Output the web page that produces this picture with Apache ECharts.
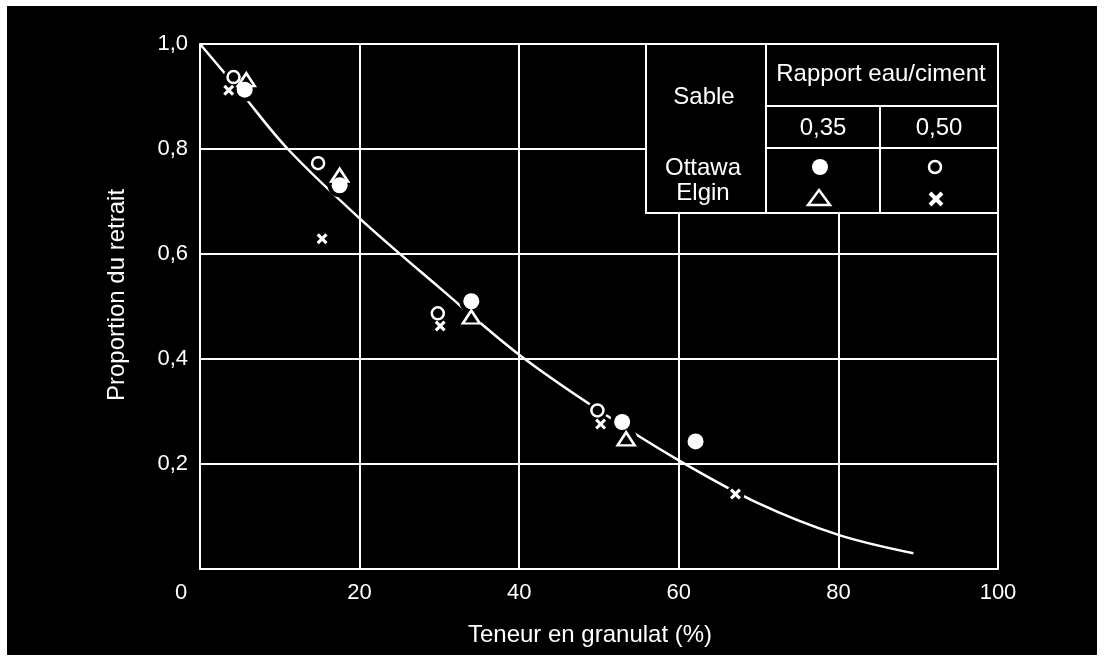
<!DOCTYPE html>
<html><head><meta charset="utf-8">
<script src="https://cdn.jsdelivr.net/npm/echarts@6/dist/echarts.min.js"></script>
<style>
html,body{margin:0;padding:0;background:#fff;width:1104px;height:660px;overflow:hidden}
#chart{position:absolute;left:7px;top:6px;width:1090px;height:649px;background:#000}
</style></head><body><div id="chart"></div>
<script>
// ---- data ----
const xTitle = 'Teneur en granulat (%)';
const yTitle = 'Proportion du retrait';
const xTickValues = [0, 20, 40, 60, 80, 100];
const yTickLabels = ['0', '0,2', '0,4', '0,6', '0,8', '1,0'];

// fitted curve
const curveX = [0, 5, 11, 20, 30, 40, 50, 60, 70, 80, 89.4];
const curveY = [1.0, 0.91, 0.80, 0.668, 0.536, 0.408, 0.302, 0.207, 0.125, 0.065, 0.03];

// Ottawa sand, w/c 0.35 (filled circle)
const ottawa035X = [5.6, 17.5, 34.0, 52.9, 62.1];
const ottawa035Y = [0.913, 0.731, 0.510, 0.280, 0.243];
// Ottawa sand, w/c 0.50 (open circle)
const ottawa050X = [4.2, 14.8, 29.8, 49.8];
const ottawa050Y = [0.937, 0.773, 0.487, 0.302];
// Elgin sand, w/c 0.35 (triangle)
const elgin035X = [5.8, 17.5, 34.0, 53.4];
const elgin035Y = [0.932, 0.750, 0.480, 0.248];
// Elgin sand, w/c 0.50 (cross)
const elgin050X = [3.6, 15.3, 30.1, 50.2, 67.1];
const elgin050Y = [0.912, 0.629, 0.463, 0.276, 0.143];

// legend table texts
const tableHeadSand = 'Sable';
const tableHeadRatio = 'Rapport eau/ciment';
const ratioLabels = ['0,35', '0,50'];
const sandLabels = ['Ottawa', 'Elgin'];

// ---- build ----
const zip = (xs, ys) => xs.map((x, i) => [x, ys[i]]);
const FONT = 'Liberation Sans';
const WHITE = '#fff';
const crossPath = 'path://M0,2 L2,0 L5,3 L8,0 L10,2 L7,5 L10,8 L8,10 L5,7 L2,10 L0,8 L3,5 Z';

const chart = echarts.init(document.getElementById('chart'), null, {renderer: 'canvas'});

function halo(xs, ys, size) {
  return {
    type: 'scatter', data: zip(xs, ys), symbol: 'circle', symbolSize: size,
    itemStyle: {color: '#000', opacity: 1}, z: 3, silent: true
  };
}

const tx = (text, x, y, size) => ({
  type: 'text', x: x, y: y, z: 100,
  style: {text: text, fill: WHITE, fontSize: size || 24, fontFamily: FONT, textAlign: 'center', verticalAlign: 'middle', textVerticalAlign: 'middle'}
});
const ln = (x1, y1, x2, y2) => ({
  type: 'line', z: 100, shape: {x1, y1, x2, y2}, style: {stroke: WHITE, lineWidth: 2}
});

const option = {
  backgroundColor: '#000',
  animation: false,
  grid: {left: 193, top: 38, width: 798, height: 525, containLabel: false},
  xAxis: {
    type: 'value', min: 0, max: 100, interval: 20,
    name: xTitle, nameLocation: 'middle', nameGap: 54,
    nameTextStyle: {color: WHITE, fontSize: 24, fontFamily: FONT, padding: [0, 18, 0, 0]},
    axisLine: {show: true, lineStyle: {color: WHITE, width: 2}},
    axisTick: {show: false},
    splitLine: {show: true, lineStyle: {color: WHITE, width: 2}},
    axisLabel: {
      color: WHITE, fontSize: 22, fontFamily: FONT, margin: 13,
      formatter: v => (v === xTickValues[0] ? '{o|' + v + '}' : String(v)),
      rich: {o: {color: WHITE, fontSize: 22, fontFamily: FONT, padding: [0, 38, 0, 0]}}
    }
  },
  yAxis: {
    type: 'value', min: 0, max: 1, interval: 0.2,
    name: yTitle, nameLocation: 'middle', nameGap: 71,
    nameTextStyle: {color: WHITE, fontSize: 24, fontFamily: FONT, padding: [0, 0, 0, 23]},
    axisLine: {show: true, lineStyle: {color: WHITE, width: 2}},
    axisTick: {show: false},
    splitLine: {show: true, lineStyle: {color: WHITE, width: 2}},
    axisLabel: {
      color: WHITE, fontSize: 22, fontFamily: FONT, margin: 12, showMinLabel: false,
      formatter: v => yTickLabels[Math.round(v / 0.2)]
    }
  },
  series: [
    {
      type: 'line', data: zip(curveX, curveY), smooth: 0.35, symbol: 'none',
      lineStyle: {color: WHITE, width: 2.5}, z: 2, silent: true
    },
    halo(ottawa050X, ottawa050Y, 20),
    halo(elgin050X, elgin050Y, 18),
    halo(elgin035X, elgin035Y, 22),
    halo(ottawa035X, ottawa035Y, 24),
    {
      name: 'Ottawa 0,50', type: 'scatter', data: zip(ottawa050X, ottawa050Y),
      symbol: 'circle', symbolSize: 12,
      itemStyle: {color: '#000', borderColor: WHITE, borderWidth: 2.5, opacity: 1}, z: 4
    },
    {
      name: 'Elgin 0,50', type: 'scatter', data: zip(elgin050X, elgin050Y),
      symbol: crossPath, symbolSize: 11,
      itemStyle: {color: WHITE, opacity: 1}, z: 4
    },
    {
      name: 'Elgin 0,35', type: 'scatter', data: zip(elgin035X, elgin035Y),
      symbol: 'triangle', symbolSize: [17, 13],
      itemStyle: {color: '#000', borderColor: WHITE, borderWidth: 2.5, opacity: 1}, z: 4
    },
    {
      name: 'Ottawa 0,35', type: 'scatter', data: zip(ottawa035X, ottawa035Y),
      symbol: 'circle', symbolSize: 16,
      itemStyle: {color: WHITE, opacity: 1}, z: 5
    }
  ],
  graphic: [
    {type: 'rect', z: 99, shape: {x: 639, y: 38, width: 352, height: 169}, style: {fill: '#000', stroke: WHITE, lineWidth: 2}},
    ln(759, 38, 759, 207),
    ln(759, 100, 991, 100),
    ln(759, 142, 991, 142),
    ln(873, 100, 873, 207),
    tx(tableHeadSand, 697, 91),
    tx(tableHeadRatio, 874, 68),
    tx(ratioLabels[0], 816, 122),
    tx(ratioLabels[1], 932, 122),
    tx(sandLabels[0], 696, 162),
    tx(sandLabels[1], 696, 187),
    {type: 'circle', z: 100, shape: {cx: 813, cy: 161, r: 8}, style: {fill: WHITE}},
    {type: 'circle', z: 100, shape: {cx: 928, cy: 161, r: 6}, style: {fill: '#000', stroke: WHITE, lineWidth: 2.5}},
    {type: 'polygon', z: 100, shape: {points: [[812, 184], [823, 199], [801, 199]]}, style: {fill: '#000', stroke: WHITE, lineWidth: 2.5}},
    {type: 'line', z: 100, shape: {x1: 923, y1: 187, x2: 935, y2: 199}, style: {stroke: WHITE, lineWidth: 4}},
    {type: 'line', z: 100, shape: {x1: 935, y1: 187, x2: 923, y2: 199}, style: {stroke: WHITE, lineWidth: 4}}
  ]
};
chart.setOption(option);
</script></body></html>
